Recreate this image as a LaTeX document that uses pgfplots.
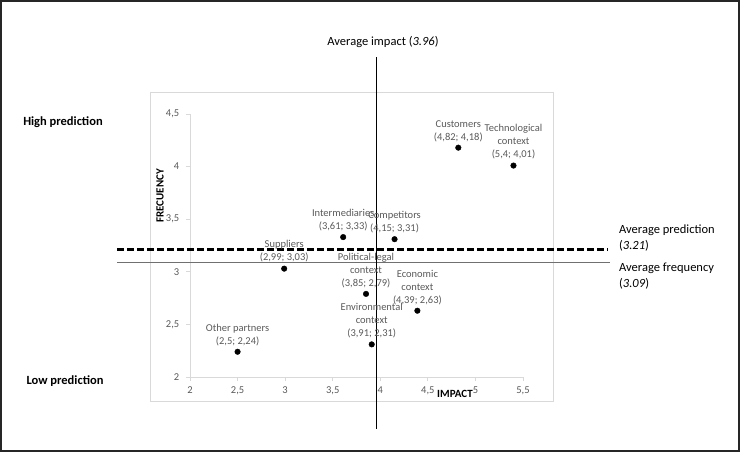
\documentclass[border=0pt]{standalone}
\usepackage{fontspec}
\setmainfont{Carlito}
\usepackage{pgfplots}
\pgfplotsset{compat=1.18}
\definecolor{txtgray}{HTML}{595959}
\definecolor{axgray}{HTML}{D9D9D9}
\definecolor{freqgray}{HTML}{707070}
\begin{document}
\begin{tikzpicture}
% page and outer frame (1pt = 1px of the reference)
\useasboundingbox (-190pt,-82pt) rectangle (556pt,377pt);
\draw[line width=2pt, black!85] (-189pt,-74pt) rectangle (549pt,376pt);
\draw[axgray, line width=0.6pt] (-40pt,-24pt) rectangle (363pt,285pt);
\begin{axis}[
  at={(0,0)}, anchor=south west,
  scale only axis, width=333pt, height=263pt,
  xmin=2, xmax=5.5, ymin=2, ymax=4.5,
  axis x line=bottom, axis y line=left,
  axis line style={axgray, line width=0.8pt, -},
  xtick={2,2.5,3,3.5,4,4.5,5,5.5}, ytick={2,2.5,3,3.5,4,4.5},
  xticklabels={2,{2,5},3,{3,5},4,{4,5},5,{5,5}},
  yticklabels={2,{2,5},3,{3,5},4,{4,5}},
  tick align=outside,
  tick style={axgray, line width=0.8pt},
  ticklabel style={font=\fontsize{10.5}{12}\selectfont, text=txtgray},
  xticklabel style={yshift=-2pt},
  yticklabel style={xshift=-3pt},
  clip=false,
]
  % average lines
  \addplot[freqgray, line width=1.3pt] coordinates {(1.233,3.09)(6.414,3.09)};
  \addplot[black, line width=2.6pt, dash pattern=on 7pt off 3pt] coordinates {(1.233,3.21)(6.394,3.21)};
  \addplot[black, line width=1pt] coordinates {(3.96,1.506)(3.96,5.04)};
  % points
  \addplot[only marks, mark=*, mark size=2.8pt, black] coordinates {
    (4.82,4.18) (5.4,4.01) (3.61,3.33) (4.15,3.31) (2.99,3.03)
    (3.85,2.79) (4.39,2.63) (3.91,2.31) (2.5,2.24)};
  \begin{scope}[every node/.style={anchor=south, align=center, inner sep=1pt, yshift=5pt,
      text=txtgray, font=\fontsize{10.5}{13}\selectfont}]
    \node at (axis cs:4.82,4.18) {Customers\\(4,82; 4,18)};
    \node at (axis cs:5.4,4.01) {Technological\\context\\(5,4; 4,01)};
    \node at (axis cs:3.61,3.33) {Intermediaries\\(3,61; 3,33)};
    \node at (axis cs:4.15,3.31) {Competitors\\(4,15; 3,31)};
    \node at (axis cs:2.99,3.03) {Suppliers\\(2,99; 3,03)};
    \node at (axis cs:3.85,2.79) {Political-legal\\context\\(3,85; 2,79)};
    \node at (axis cs:4.39,2.63) {Economic\\context\\(4,39; 2,63)};
    \node at (axis cs:3.91,2.31) {Environmental\\context\\(3,91; 2,31)};
    \node at (axis cs:2.5,2.24) {Other partners\\(2,5; 2,24)};
  \end{scope}
\end{axis}
% axis titles and side texts
\node[font=\bfseries\fontsize{11}{12}\selectfont] at (265pt,-17pt) {IMPACT};
\node[font=\bfseries\fontsize{11}{12}\selectfont, rotate=90] at (-30pt,181pt) {FRECUENCY};
\node[font=\fontsize{12.5}{15}\selectfont] at (193pt,335pt) {Average impact (\textit{3.96})};
\node[font=\bfseries\fontsize{12.5}{15}\selectfont] at (-127pt,255pt) {High prediction};
\node[font=\bfseries\fontsize{12.5}{15}\selectfont] at (-125pt,-4pt) {Low prediction};
\node[anchor=west, align=left, inner sep=0pt, font=\fontsize{12.5}{16}\selectfont] at (429pt,139pt) {Average prediction\\(\textit{3.21})};
\node[anchor=west, align=left, inner sep=0pt, font=\fontsize{12.5}{16}\selectfont] at (429pt,101pt) {Average frequency\\(\textit{3.09})};
\end{tikzpicture}
\end{document}
